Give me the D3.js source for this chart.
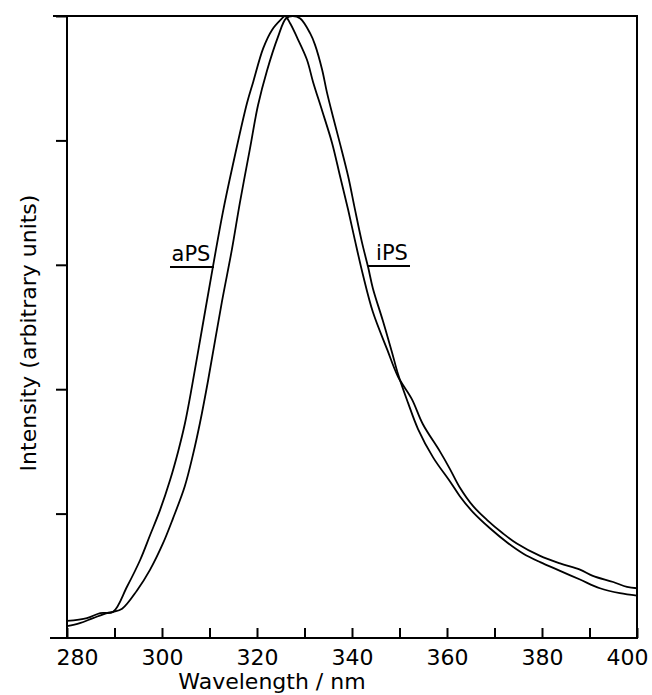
<!DOCTYPE html>
<html>
<head>
<meta charset="utf-8">
<script src="https://cdn.jsdelivr.net/npm/d3@7"></script>
<style>
  body { margin: 0; background: #fff; }
  text { font-family: "DejaVu Sans", sans-serif; fill: #000; }
</style>
</head>
<body>
<svg id="canvas" width="652" height="695"></svg>
<script>
/********** Data **********/
var xTicks = [280, 290, 300, 310, 320, 330, 340, 350, 360, 370, 380, 390, 400];
var yTicks = [1, 2, 3, 4, 5];

var apsWavelength = [280, 284.2, 287, 289.7, 292.6, 295.4, 297.5, 299.6, 301.7, 303.4, 304.8, 306.3,
  308.5, 310.7, 312.8, 314.9, 317.9, 319.2, 321.3, 323.2, 325, 325.9, 327, 328.4, 330.5, 331.8,
  333.7, 335.8, 337.5, 339.2, 340.6, 342.3, 344.4, 347.4, 349.7, 352.6, 354.9, 358.5, 360.6,
  362.7, 365.5, 368.4, 371.8, 374.7, 379.6, 383.8, 388, 390.7, 395, 397.9, 400];
var apsIntensity = [0.137, 0.16, 0.2, 0.21, 0.41, 0.627, 0.828, 1.03, 1.27, 1.5, 1.72, 2.02,
  2.5, 2.98, 3.42, 3.8, 4.3, 4.47, 4.74, 4.89, 4.97, 5.0, 4.94, 4.83, 4.65, 4.47,
  4.24, 3.98, 3.71, 3.44, 3.2, 2.92, 2.62, 2.32, 2.1, 1.92, 1.72, 1.5, 1.36,
  1.21, 1.06, 0.95, 0.84, 0.76, 0.66, 0.6, 0.55, 0.5, 0.45, 0.41, 0.4];

var ipsWavelength = [280, 282.7, 285.5, 288.4, 289.7, 291.6, 294.7, 297.5, 300.2, 302.3, 304.8,
  306.5, 308, 309.7, 312.6, 314.7, 316.4, 318.5, 320.2, 322.1, 324.4, 326.1, 327.5, 329.1,
  331.2, 332.2, 333.7, 334.7, 336, 337.5, 339.2, 340.6, 342.1, 343.4, 344.4, 346.5, 348.4,
  349.7, 351.8, 353.9, 357.1, 360.6, 362.7, 365.5, 369.1, 372.6, 376, 379.6, 383.8, 388,
  392.2, 396.4, 400];
var ipsIntensity = [0.096, 0.12, 0.16, 0.2, 0.21, 0.235, 0.38, 0.55, 0.76, 0.96, 1.22,
  1.47, 1.73, 2.07, 2.7, 3.12, 3.5, 3.93, 4.28, 4.56, 4.83, 4.98, 5.0, 4.98,
  4.86, 4.77, 4.57, 4.39, 4.19, 3.97, 3.71, 3.45, 3.18, 2.98, 2.81, 2.55, 2.3,
  2.12, 1.89, 1.68, 1.45, 1.26, 1.14, 1.01, 0.88, 0.77, 0.68, 0.61, 0.54, 0.47,
  0.4, 0.36, 0.34];

/********** Setup **********/
var svg = d3.select("#canvas");
var plotLeft = 67, plotRight = 637, plotTop = 16, plotBottom = 638;

var x = d3.scaleLinear().domain([280, 400]).range([plotLeft, plotRight]);
var y = d3.scaleLinear().domain([0, 5]).range([plotBottom, plotTop]);

/********** Axes **********/
var xAxis = d3.axisBottom(x)
    .tickValues(xTicks)
    .tickSize(-10)
    .tickPadding(11)
    .tickFormat(function(d) { return d % 20 === 0 ? d : ""; });

var gx = svg.append("g")
    .attr("transform", "translate(0," + plotBottom + ")")
    .call(xAxis);
gx.select(".domain").remove();
gx.selectAll(".tick line").attr("stroke", "#000").attr("stroke-width", 2);
gx.selectAll(".tick text")
    .style("font-size", "22px")
    .attr("fill", "#000")
    .attr("dx", function(d) { return d === 280 ? 10 : d === 400 ? -10 : 0; });

var yAxis = d3.axisLeft(y)
    .tickValues(yTicks)
    .tickSize(11)
    .tickFormat("");

var gy = svg.append("g")
    .attr("transform", "translate(" + plotLeft + ",0)")
    .call(yAxis);
gy.select(".domain").remove();
gy.selectAll(".tick line").attr("stroke", "#000").attr("stroke-width", 2);

// frame
var frame = svg.append("g").attr("stroke", "#000").attr("stroke-width", 2).attr("fill", "none");
frame.append("line").attr("x1", 50).attr("x2", plotRight + 1).attr("y1", plotBottom).attr("y2", plotBottom);
frame.append("line").attr("x1", plotLeft).attr("x2", plotLeft).attr("y1", plotTop - 1).attr("y2", plotBottom);
frame.append("line").attr("x1", 53).attr("x2", plotRight + 1).attr("y1", plotTop).attr("y2", plotTop);
frame.append("line").attr("x1", plotRight).attr("x2", plotRight).attr("y1", plotTop).attr("y2", plotBottom);

/********** Curves **********/
var line = d3.line()
    .x(function(d) { return x(d[0]); })
    .y(function(d) { return y(d[1]); })
    .curve(d3.curveCatmullRom.alpha(0.5));

var series = [
  d3.zip(apsWavelength, apsIntensity),
  d3.zip(ipsWavelength, ipsIntensity)
];

svg.append("g")
    .selectAll("path")
    .data(series)
    .enter()
    .append("path")
    .attr("d", line)
    .attr("fill", "none")
    .attr("stroke", "#000")
    .attr("stroke-width", 1.8);

/********** Labels **********/
svg.append("text")
    .attr("x", 191).attr("y", 261)
    .attr("text-anchor", "middle")
    .style("font-size", "21px")
    .text("aPS");
svg.append("line")
    .attr("x1", 170).attr("x2", 214).attr("y1", 267).attr("y2", 267)
    .attr("stroke", "#000").attr("stroke-width", 2);

svg.append("text")
    .attr("x", 392).attr("y", 260)
    .attr("text-anchor", "middle")
    .style("font-size", "21px")
    .text("iPS");
svg.append("line")
    .attr("x1", 368).attr("x2", 410).attr("y1", 266).attr("y2", 266)
    .attr("stroke", "#000").attr("stroke-width", 2);

svg.append("text")
    .attr("x", 272).attr("y", 689)
    .attr("text-anchor", "middle")
    .style("font-size", "22px")
    .text("Wavelength / nm");

svg.append("text")
    .attr("transform", "translate(36,333) rotate(-90)")
    .attr("text-anchor", "middle")
    .style("font-size", "22px")
    .text("Intensity (arbitrary units)");
</script>
</body>
</html>
